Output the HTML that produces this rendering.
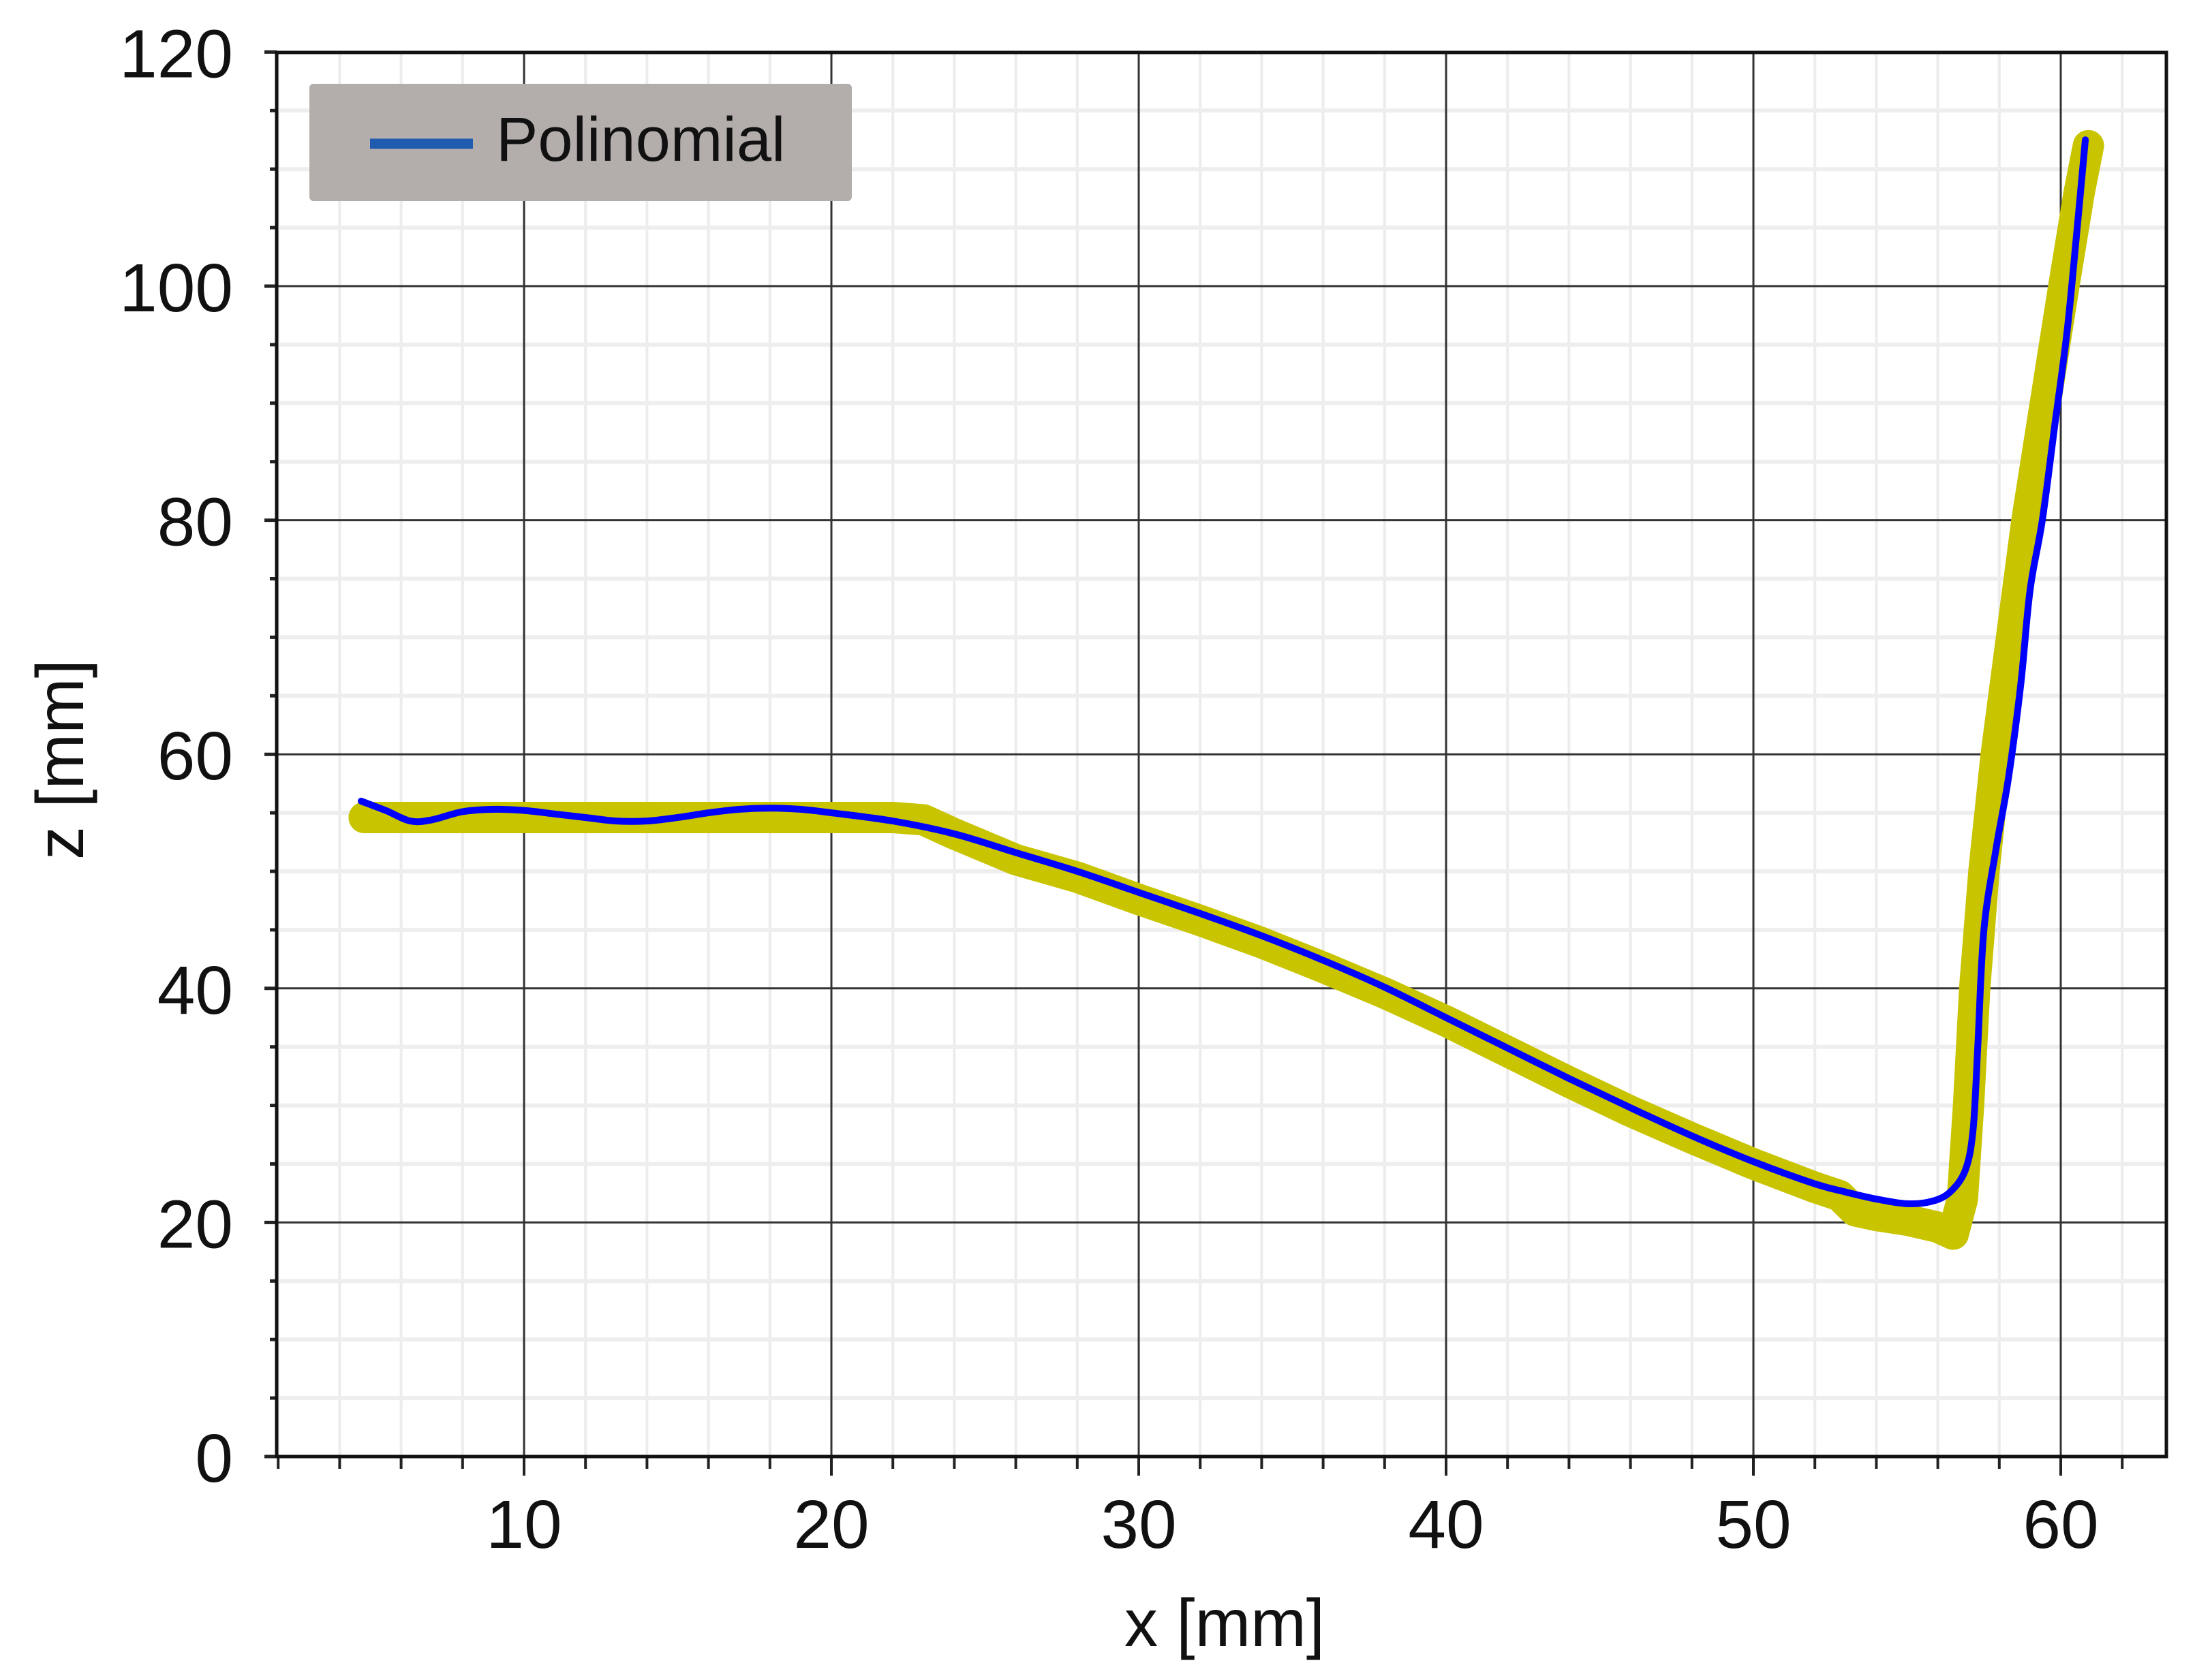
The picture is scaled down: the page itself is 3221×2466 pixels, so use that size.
<!DOCTYPE html>
<html><head><meta charset="utf-8">
<style>
html,body{margin:0;padding:0;background:#fff;}
svg{display:block;}
text{font-family:"Liberation Sans","DejaVu Sans",sans-serif;fill:#111;}
</style></head>
<body>
<svg id="chart" width="3221" height="2466" viewBox="0 0 3221 2466" xmlns="http://www.w3.org/2000/svg">
<rect x="0" y="0" width="3221" height="2466" fill="#fff"/>
<g id="grid"></g>
<g id="series"></g>
<g id="axes"></g>
<g>
<rect x="454" y="123" width="796" height="172" rx="6" fill="#b3aeac"/>
<line x1="543" y1="211" x2="694" y2="211" stroke="#1f5cb0" stroke-width="15"/>
<text x="728" y="236" font-size="92">Polinomial</text>
</g>
<text x="1797" y="2416" font-size="98" text-anchor="middle">x [mm]</text>
<text x="0" y="0" font-size="98" text-anchor="middle" transform="translate(122,1115) rotate(-90)">z [mm]</text>
</svg>
<script>
const xTicks = [10, 20, 30, 40, 50, 60];
const yTicks = [0, 20, 40, 60, 80, 100, 120];
const rawX = [4.8, 6, 8, 10, 12, 14, 16, 18, 20, 22, 23, 24, 26, 28, 30, 32, 34, 36, 38, 40, 42, 44, 46, 48, 50, 52, 52.8, 53.3, 54, 55, 56, 56.5, 56.8, 57, 57.2, 57.5, 57.9, 58.4, 58.9, 59.5, 60.1, 60.6, 60.9];
const rawZ = [54.6, 54.6, 54.6, 54.6, 54.6, 54.6, 54.6, 54.6, 54.6, 54.6, 54.4, 53.2, 51.0, 49.5, 47.6, 45.8, 43.9, 41.8, 39.6, 37.2, 34.6, 32.0, 29.5, 27.2, 25.0, 23.0, 22.3, 21.0, 20.6, 20.2, 19.6, 19.0, 22, 30, 40, 50, 60, 70, 80, 90, 100, 108, 112];
const fitX = [4.7, 5.5, 6.3, 7, 8, 9, 10, 11, 12, 13, 14, 15, 16, 17, 18, 19, 20, 22, 24, 26, 28, 30, 32, 34, 36, 38, 40, 42, 44, 46, 48, 50, 52, 53, 54, 55, 55.8, 56.4, 56.9, 57.15, 57.3, 57.5, 57.9, 58.3, 58.7, 59.0, 59.4, 59.8, 60.2, 60.5, 60.8];
const fitZ = [56.0, 55.2, 54.3, 54.4, 55.1, 55.3, 55.2, 54.9, 54.6, 54.3, 54.3, 54.6, 55.0, 55.3, 55.4, 55.3, 55.0, 54.3, 53.2, 51.6, 50.0, 48.2, 46.4, 44.5, 42.4, 40.1, 37.5, 34.9, 32.3, 29.8, 27.4, 25.2, 23.3, 22.6, 22.0, 21.6, 21.8, 22.6, 24.5, 28, 35, 45, 52, 58, 66, 74, 80, 88, 96, 104, 112.5];

const X0 = 406, X1 = 3179, Y0 = 77, Y1 = 2138;
const sx = v => 769 + (v - 10) * 45.1;
const sy = v => 2138 - v * 17.18;
const NS = 'http://www.w3.org/2000/svg';
function mk(parent, tag, attrs) {
  const e = document.createElementNS(NS, tag);
  for (const k in attrs) e.setAttribute(k, attrs[k]);
  parent.appendChild(e);
  return e;
}
function smoothPath(xs, zs) {
  const p = xs.map((x, i) => [sx(x), sy(zs[i])]);
  let d = 'M' + p[0][0] + ',' + p[0][1];
  for (let i = 0; i < p.length - 1; i++) {
    const a = p[Math.max(0, i - 1)], b = p[i], c = p[i + 1], e = p[Math.min(p.length - 1, i + 2)];
    const c1 = [b[0] + (c[0] - a[0]) / 6, b[1] + (c[1] - a[1]) / 6];
    const c2 = [c[0] - (e[0] - b[0]) / 6, c[1] - (e[1] - b[1]) / 6];
    d += ' C' + c1[0] + ',' + c1[1] + ' ' + c2[0] + ',' + c2[1] + ' ' + c[0] + ',' + c[1];
  }
  return d;
}
const grid = document.getElementById('grid');
const axes = document.getElementById('axes');
const series = document.getElementById('series');

for (let v = 2; v <= 63; v += 2) {
  if (v % 10 === 0) continue;
  const l = mk(grid, 'line', {x1: sx(v), x2: sx(v), y1: Y0, y2: Y1, stroke: '#ececec', 'stroke-width': 4});
  
  
  const t = mk(axes, 'line', {x1: sx(v), x2: sx(v), y1: Y1, y2: Y1 + 18, stroke: '#222', 'stroke-width': 4});
  
  
}
for (let v = 5; v < 120; v += 5) {
  if (v % 20 === 0) continue;
  const l = mk(grid, 'line', {x1: X0, x2: X1, y1: sy(v), y2: sy(v), stroke: '#eeeeee', 'stroke-width': 6});
  
  
  const t = mk(axes, 'line', {x1: X0 - 10, x2: X0, y1: sy(v), y2: sy(v), stroke: '#222', 'stroke-width': 5});
  
  
}
xTicks.forEach(v => {
  const l = mk(grid, 'line', {x1: sx(v), x2: sx(v), y1: Y0, y2: Y1, stroke: '#333', 'stroke-width': 3});
  
  
  const t = mk(axes, 'line', {x1: sx(v), x2: sx(v), y1: Y1, y2: Y1 + 28, stroke: '#222', 'stroke-width': 4});
  
  
  const tx = mk(axes, 'text', {x: sx(v), y: 2272, 'font-size': 100, 'text-anchor': 'middle'});
  tx.textContent = v;
  
  
});
yTicks.forEach(v => {
  const l = mk(grid, 'line', {x1: X0, x2: X1, y1: sy(v), y2: sy(v), stroke: '#333', 'stroke-width': 3});
  
  
  const t = mk(axes, 'line', {x1: X0 - 18, x2: X0, y1: sy(v), y2: sy(v), stroke: '#222', 'stroke-width': 5});
  
  
  const tx = mk(axes, 'text', {x: 342, y: sy(v) + 37, 'font-size': 100, 'text-anchor': 'end'});
  tx.textContent = v;
  
  
});
const frame = mk(axes, 'rect', {x: X0, y: Y0, width: X1 - X0, height: Y1 - Y0, fill: 'none', stroke: '#111', 'stroke-width': 5});



const rawPts = rawX.map((x, i) => sx(x) + ',' + sy(rawZ[i])).join(' ');
const raw = mk(series, 'polyline', {points: rawPts, fill: 'none', stroke: '#c8c400', 'stroke-width': 46, 'stroke-linejoin': 'round', 'stroke-linecap': 'round'});


const fit = mk(series, 'path', {d: smoothPath(fitX, fitZ), fill: 'none', stroke: '#0000ff', 'stroke-width': 10, 'stroke-linejoin': 'round', 'stroke-linecap': 'round'});


</script>
</body></html>
